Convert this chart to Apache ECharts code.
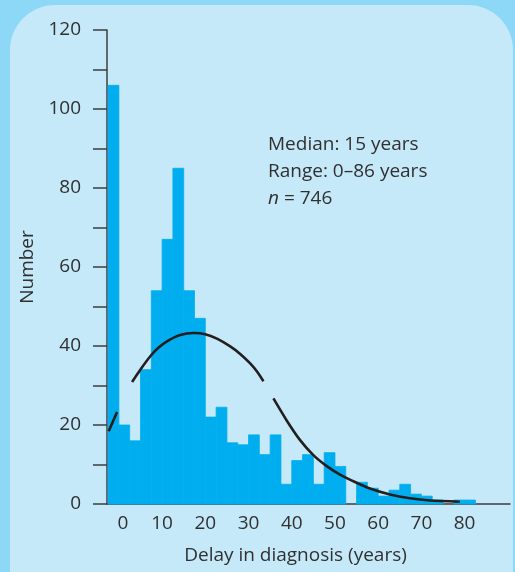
<!DOCTYPE html>
<html><head><meta charset="utf-8">
<script src="https://cdn.jsdelivr.net/npm/echarts@6/dist/echarts.min.js"></script>
<style>html,body{margin:0;padding:0;background:#8dd7f7}#c{width:515px;height:572px}</style>
</head><body><div id="c"></div>
<script>
// Histogram bins: 2.5-year wide, first bin starts at -2.5
const binStart = -2.5;
const binWidth = 2.5;
const counts = [106, 20, 16, 34, 54, 67, 85, 54, 47, 22, 24.5, 15.5, 15, 17.5, 12.5, 17.5, 5, 11, 12.5, 5, 13, 9.5, 0, 5.5, 4, 2, 3.5, 5, 2.5, 2, 1, 0, 1, 1];
// Fitted curve points ('-' = gap in the printed curve)
const curveX = [-2.36, -0.42, 1, 3.05, 4.96, 7.27, 9.2, 11.13, 14.2, 17.28, 19.98, 22.69, 25.76, 28.07, 30.38, 32.0, 33.45, 34.6, 35.76, 38.86, 41.93, 45.0, 48.1, 51.17, 54.63, 58.1, 62.73, 67.35, 71.97, 78.9];
const curveY = [18.4, 23.3, '-', 30.9, 34.0, 37.4, 39.6, 41.2, 42.8, 43.3, 43.0, 41.87, 39.9, 38.0, 35.6, 33.5, 31.08, '-', 26.73, 21.09, 16.17, 12.38, 9.6, 7.45, 5.56, 3.92, 2.4, 1.44, 0.88, 0.58];
const xTickLabels = [0, 10, 20, 30, 40, 50, 60, 70, 80];
const notes = ['Median: 15 years', 'Range: 0\u201386 years', '{i|n} = 746'];

const histData = counts.map((c, i) => [binStart + i * binWidth, binStart + (i + 1) * binWidth, c]);
const curveData = curveX.map((x, i) => [x, curveY[i]]);

const chart = echarts.init(document.getElementById('c'));
const txt = '#303030';
const font = '"Open Sans", "Noto Sans", sans-serif';
const fs = 19;
chart.setOption({
  backgroundColor: '#8dd7f7',
  animation: false,
  textStyle: {fontFamily: font},
  graphic: [
    {type: 'rect', z: -10, shape: {x: 10, y: 5, width: 503, height: 640, r: 45}, style: {fill: '#c6e9f9'}},
    {type: 'text', z: 100, left: 268, top: 131, style: {text: notes.join('\n'), fill: txt, font: fs + 'px ' + font, lineHeight: 27,
      rich: {i: {fontStyle: 'italic', fontSize: fs, fill: txt, fontFamily: font}}}}
  ],
  grid: {left: 107, right: 5, top: 30, bottom: 68, containLabel: false},
  xAxis: {
    type: 'value', min: -2.75, max: 90.5,
    axisLine: {show: true, onZero: false, lineStyle: {color: '#3c3c3c', width: 1.5}},
    axisTick: {show: false},
    splitLine: {show: false},
    axisLabel: {customValues: xTickLabels, color: txt, fontSize: fs, margin: 10,
      formatter: v => (v === 0 ? '{z|0}' : String(v)),
      rich: {z: {color: txt, fontSize: fs, padding: [0, 0, 0, 8]}}},
    name: 'Delay in diagnosis (years)', nameLocation: 'middle', nameGap: 42,
    nameTextStyle: {color: txt, fontSize: fs, padding: [0, 26, 0, 0]}
  },
  yAxis: {
    type: 'value', min: 0, max: 120, interval: 10,
    axisLine: {show: true, onZero: false, lineStyle: {color: '#3c3c3c', width: 1.5}},
    axisTick: {show: true, length: 14, lineStyle: {color: '#3c3c3c', width: 1.5}},
    splitLine: {show: false},
    axisLabel: {color: txt, fontSize: fs, margin: 26, formatter: v => (v % 20 === 0 ? String(v) : '')},
    name: 'Number', nameLocation: 'middle', nameGap: 68,
    nameTextStyle: {color: txt, fontSize: fs}
  },
  series: [
    {
      type: 'custom', z: 2,
      renderItem: (params, api) => {
        const p0 = api.coord([api.value(0), api.value(2)]);
        const p1 = api.coord([api.value(1), 0]);
        return {type: 'rect', shape: {x: p0[0], y: p0[1], width: p1[0] - p0[0], height: p1[1] - p0[1]},
          style: {fill: '#00aeef', stroke: api.value(2) > 0 ? '#00aeef' : null, lineWidth: 0.8}};
      },
      encode: {x: [0, 1], y: 2},
      data: histData
    },
    {
      type: 'line', z: 5, data: curveData, showSymbol: false, smooth: 0.25, connectNulls: false,
      lineStyle: {color: '#231f20', width: 2.6}
    }
  ]
});
</script></body></html>
